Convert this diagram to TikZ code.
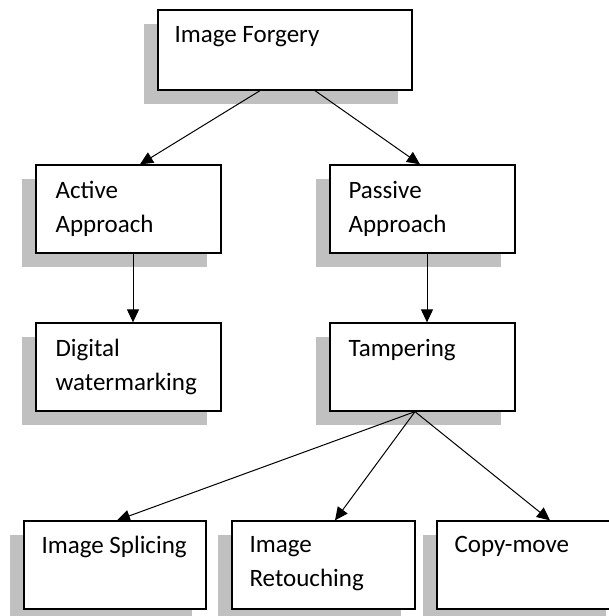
\documentclass[tikz,border=0pt]{standalone}
\usepackage{fontspec}
\setmainfont{Carlito}
\usetikzlibrary{arrows.meta,shadows}
\definecolor{shadowgray}{RGB}{192,192,192}

\begin{document}
\begin{tikzpicture}[
        x=1pt,
        y=-1pt,
        box/.style={
            rectangle,
            draw,
            line width=1.3pt,
            fill=white,
            minimum width=185pt,
            minimum height=88pt,
            inner sep=0pt,
            drop shadow={shadow xshift=-14pt, shadow yshift=-14pt, fill=shadowgray, opacity=1}
        },
        boxtext/.style={
            anchor=north west,
            align=left,
            inner sep=0pt,
            font=\fontsize{25}{34}\selectfont
        },
        arrow/.style={
            -{Triangle[length=13pt,width=12pt]},
            line width=1pt
        }
    ]

        \useasboundingbox (0,0) rectangle (609,616);

        \node[box, minimum width=254pt, minimum height=80pt] (forgery) at (285,50) {};
        \node[box] (active) at (128.5,209) {};
        \node[box] (passive) at (422.5,209) {};
        \node[box] (digital) at (128.5,367) {};
        \node[box] (tamper) at (422.5,367) {};
        \node[box, minimum width=182pt] (splicing) at (115,565) {};
        \node[box, minimum width=183pt] (retouch) at (323.5,565) {};
        \node[box, minimum width=183pt] (copymove) at (528.5,565) {};

        \node[boxtext] (forgerytxt) at ([shift={(17,17)}]forgery.north west) {Image Forgery};
        \node[boxtext] (activetxt) at ([shift={(20,17)}]active.north west) {Active\\Approach};
        \node[boxtext] (passivetxt) at ([shift={(19,17)}]passive.north west) {Passive\\Approach};
        \node[boxtext] (digitaltxt) at ([shift={(20,17)}]digital.north west) {Digital\\watermarking};
        \node[boxtext] (tampertxt) at ([shift={(19,17)}]tamper.north west) {Tampering};
        \node[boxtext] (splicingtxt) at ([shift={(18,16)}]splicing.north west) {Image Splicing};
        \node[boxtext] (retouchtxt) at ([shift={(18,16)}]retouch.north west) {Image\\Retouching};
        \node[boxtext] (copymovetxt) at ([shift={(18,16)}]copymove.north west) {Copy-move};

        \coordinate (split) at ([xshift=-7.5pt]tamper.south);

        \draw[arrow] ([xshift=-25pt]forgery.south) -- ([xshift=11.5pt]active.north);
        \draw[arrow] ([xshift=30pt]forgery.south) -- ([xshift=-2.5pt]passive.north);

        \draw[arrow] ([xshift=4.5pt]active.south) -- ([xshift=4.5pt]digital.north);
        \draw[arrow] ([xshift=4.5pt]passive.south) -- ([xshift=4.5pt]tamper.north);

        \draw[arrow] (split) -- ([xshift=2pt]splicing.north);
        \draw[arrow] (split) -- ([xshift=11.5pt]retouch.north);
        \draw[arrow] (split) -- ([xshift=21.5pt]copymove.north);

    \end{tikzpicture}
\end{document}
